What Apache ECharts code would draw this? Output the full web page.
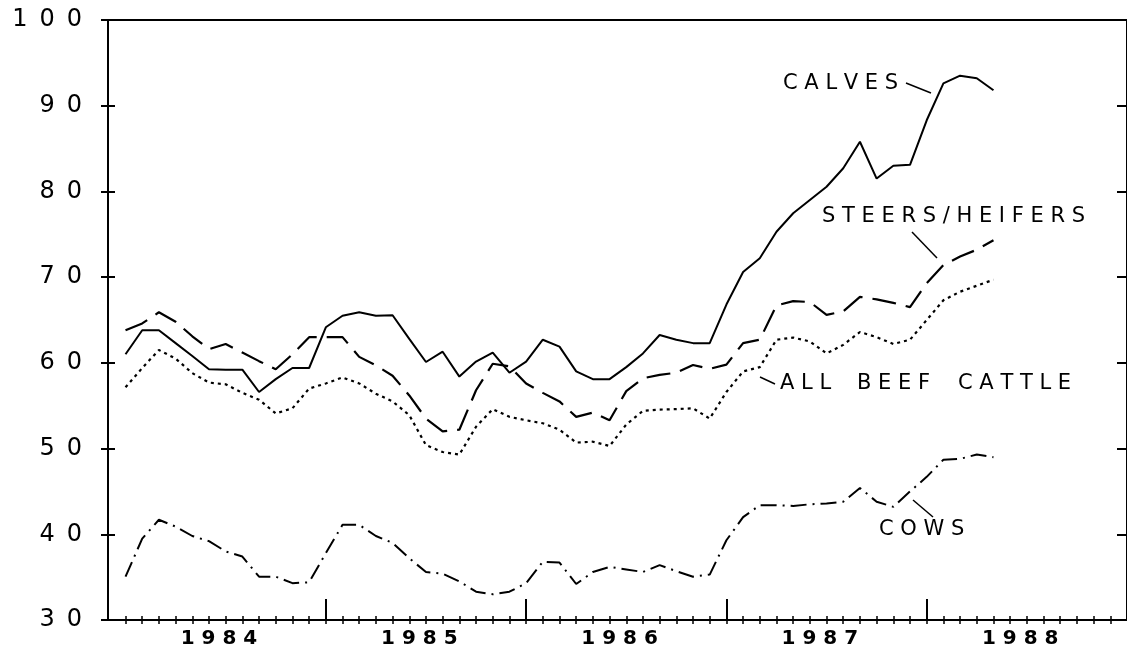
<!DOCTYPE html>
<html>
<head>
<meta charset="utf-8">
<script src="https://cdn.jsdelivr.net/npm/echarts@6/dist/echarts.min.js"></script>
<style>
html,body{margin:0;padding:0;background:#fff;}
#chart{width:1127px;height:652px;}
</style>
</head>
<body>
<div id="chart"></div>
<script>
// Monthly prices, Jan 1984 (index 0) through May 1988 (index 52)
var years = ['1984', '1985', '1986', '1987', '1988'];
var yTicks = [30, 40, 50, 60, 70, 80, 90, 100];

var calves = [61.0, 63.8, 63.8, 62.3, 60.8, 59.25, 59.2, 59.2, 56.6, 58.1, 59.4, 59.4,
  64.15, 65.5, 65.9, 65.5, 65.55, 62.8, 60.1, 61.3, 58.4, 60.15, 61.2, 58.85,
  60.15, 62.7, 61.9, 59.0, 58.1, 58.1, 59.5, 61.1, 63.25, 62.7, 62.3, 62.3,
  66.8, 70.6, 72.2, 75.3, 77.45, 79.0, 80.55, 82.7, 85.8, 81.5, 83.0, 83.1,
  88.3, 92.6, 93.5, 93.2, 91.8];

var steersHeifers = [63.8, 64.6, 65.9, 64.8, 63.1, 61.6, 62.2, 61.2, 60.2, 59.25, 61.0, 63.0,
  63.0, 63.0, 60.7, 59.7, 58.5, 56.2, 53.5, 52.0, 52.2, 56.8, 59.9, 59.6,
  57.6, 56.5, 55.5, 53.7, 54.2, 53.3, 56.7, 58.2, 58.6, 58.85, 59.75, 59.3,
  59.8, 62.3, 62.7, 66.7, 67.2, 67.1, 65.6, 66.0, 67.7, 67.4, 67.0, 66.5,
  69.3, 71.4, 72.4, 73.2, 74.3];

var allBeefCattle = [57.15, 59.4, 61.5, 60.5, 58.8, 57.7, 57.5, 56.5, 55.7, 54.1, 54.7, 57.0,
  57.6, 58.3, 57.6, 56.4, 55.5, 53.9, 50.4, 49.6, 49.3, 52.55, 54.6, 53.7,
  53.3, 52.95, 52.2, 50.7, 50.8, 50.3, 52.8, 54.4, 54.55, 54.6, 54.7, 53.5,
  56.6, 59.0, 59.5, 62.7, 62.95, 62.5, 61.1, 62.1, 63.6, 63.0, 62.2, 62.7,
  65.0, 67.3, 68.3, 69.0, 69.7];

var cows = [35.05, 39.5, 41.7, 40.9, 39.8, 39.2, 38.0, 37.4, 35.05, 35.05, 34.3, 34.4,
  37.8, 41.1, 41.1, 39.8, 39.0, 37.2, 35.6, 35.4, 34.5, 33.3, 33.0, 33.3,
  34.3, 36.8, 36.7, 34.2, 35.6, 36.2, 35.9, 35.6, 36.4, 35.7, 35.05, 35.3,
  39.3, 42.0, 43.4, 43.4, 43.3, 43.5, 43.6, 43.8, 45.4, 43.8, 43.2, 45.0,
  46.7, 48.7, 48.8, 49.3, 49.0];

function toPoints(arr) { return arr.map(function (v, i) { return [i, v]; }); }

var minorTicks = [];
for (var i = 0; i < 60; i++) minorTicks.push(i);
var majorTicks = [12, 24, 36, 48];
var yearLabelPos = years.map(function (y, k) { return 12 * k + 5.6; });

var FONT = '"DejaVu Sans", sans-serif';
var XMIN = -1.05, XMAX = 60;

var chart = echarts.init(document.getElementById('chart'), null, {renderer: 'canvas'});

function spaced(s, sep) { return String(s).split('').join(sep); }

function label(text, x, y) {
  return {type: 'text', style: {text: spaced(text, ' '), x: x, y: y, fill: '#000',
    font: '21px ' + FONT, textVerticalAlign: 'middle'}};
}
function leader(x1, y1, x2, y2) {
  return {type: 'line', shape: {x1: x1, y1: y1, x2: x2, y2: y2},
    style: {stroke: '#000', lineWidth: 1.5}};
}

var option = {
  animation: false,
  backgroundColor: '#fff',
  grid: {left: 108, top: 20, width: 1021, height: 600, show: true,
         borderColor: '#000', borderWidth: 2, backgroundColor: 'transparent'},
  xAxis: [
    {type: 'value', min: XMIN, max: XMAX, position: 'bottom',
     axisLine: {show: true, onZero: false, lineStyle: {color: '#000', width: 2}},
     axisTick: {show: true, inside: true, length: 4, customValues: minorTicks,
                lineStyle: {color: '#000', width: 1.5}},
     axisLabel: {show: true, customValues: yearLabelPos, margin: 9,
                 color: '#000', fontFamily: FONT, fontSize: 20, fontWeight: 'bold',
                 formatter: function (v) { return spaced(years[Math.floor(v / 12)], ' '); }},
     splitLine: {show: false}},
    {type: 'value', min: XMIN, max: XMAX, position: 'bottom',
     axisLine: {show: false, onZero: false},
     axisTick: {show: true, inside: false, length: 4, customValues: minorTicks,
                lineStyle: {color: '#000', width: 1.5}},
     axisLabel: {show: false}, splitLine: {show: false}},
    {type: 'value', min: XMIN, max: XMAX, position: 'bottom',
     axisLine: {show: false, onZero: false},
     axisTick: {show: true, inside: true, length: 21, customValues: majorTicks,
                lineStyle: {color: '#000', width: 2}},
     axisLabel: {show: false}, splitLine: {show: false}}
  ],
  yAxis: [
    {type: 'value', min: 30, max: 100, interval: 10, position: 'left',
     axisLine: {show: true, onZero: false, lineStyle: {color: '#000', width: 2}},
     axisTick: {show: true, inside: true, length: 7, lineStyle: {color: '#000', width: 2}},
     axisLabel: {show: true, margin: 26, color: '#000', fontFamily: FONT, fontSize: 24,
                 formatter: function (v) { return spaced(v, '\u2002'); }},
     splitLine: {show: false}},
    {type: 'value', min: 30, max: 100, interval: 10, position: 'left',
     axisLine: {show: false, onZero: false},
     axisTick: {show: true, inside: false, length: 7, lineStyle: {color: '#000', width: 2}},
     axisLabel: {show: false}, splitLine: {show: false}},
    {type: 'value', min: 30, max: 100, interval: 10, position: 'right',
     axisLine: {show: true, onZero: false, lineStyle: {color: '#000', width: 2}},
     axisTick: {show: true, inside: true, length: 10, lineStyle: {color: '#000', width: 2}},
     axisLabel: {show: false}, splitLine: {show: false}}
  ],
  series: [
    {name: 'CALVES', type: 'line', data: toPoints(calves), showSymbol: false,
     lineStyle: {color: '#000', width: 2, type: 'solid'}},
    {name: 'STEERS/HEIFERS', type: 'line', data: toPoints(steersHeifers), showSymbol: false,
     lineStyle: {color: '#000', width: 2.2, type: [24, 10], cap: 'butt'}},
    {name: 'ALL BEEF CATTLE', type: 'line', data: toPoints(allBeefCattle), showSymbol: false,
     lineStyle: {color: '#000', width: 2.2, type: [3, 4], cap: 'butt'}},
    {name: 'COWS', type: 'line', data: toPoints(cows), showSymbol: false,
     lineStyle: {color: '#000', width: 2, type: [16, 6, 2, 6], cap: 'butt'}}
  ],
  graphic: [
    label('CALVES', 783, 84),
    leader(906, 83, 931, 93),
    label('STEERS/HEIFERS', 822, 217),
    leader(912, 232, 937, 258),
    label('ALL', 780, 384),
    label('BEEF', 857, 384),
    label('CATTLE', 958, 384),
    leader(760, 377, 775, 384),
    label('COWS', 879, 530),
    leader(913, 500, 933, 517)
  ]
};
chart.setOption(option);
</script>
</body>
</html>
